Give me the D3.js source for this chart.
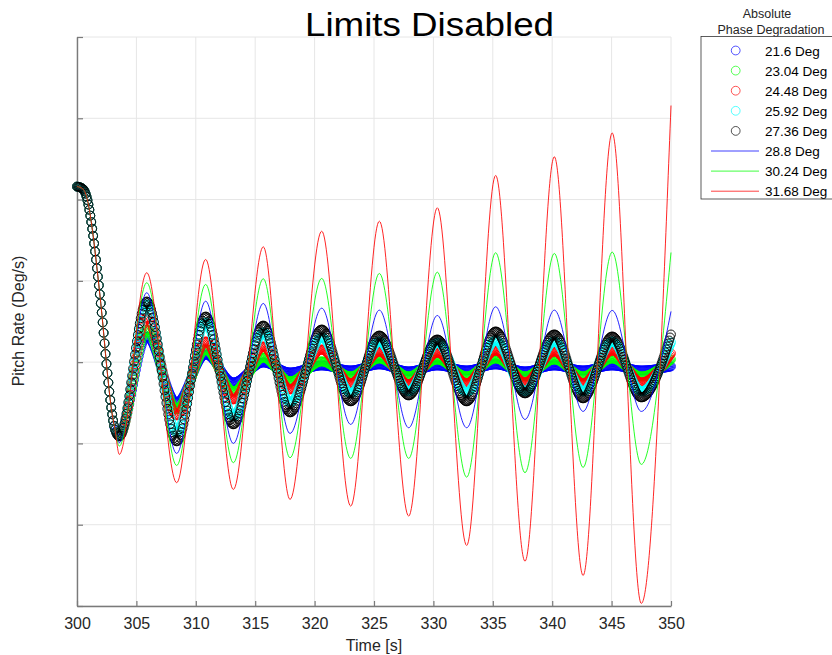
<!DOCTYPE html>
<html><head><meta charset="utf-8">
<script src="https://cdn.jsdelivr.net/npm/d3@7"></script>
<style>
body{margin:0;background:#fff}
svg{display:block}
text{font-family:Arial,"Liberation Sans",Helvetica,sans-serif}
</style>
</head><body>
<svg id="chart" width="832" height="655"></svg>
<script>
// ---------------- data ----------------
const legendLabels = ["21.6 Deg","23.04 Deg","24.48 Deg","25.92 Deg","27.36 Deg","28.8 Deg","30.24 Deg","31.68 Deg"];
const seriesColors = ["#0000ff","#00ff00","#ff0000","#00ffff","#000000","#0000ff","#00ff00","#ff0000"];
const seriesKind   = ["circle","circle","circle","circle","circle","line","line","line"];
const xTicks = [300,305,310,315,320,325,330,335,340,345,350];
const yTicks = [-3,-2,-1,0,1,2,3,4];

// common initial transient (identical for every run)
const transientTime  = [300.0, 300.5, 300.9, 301.3, 301.7, 302.1, 302.5, 302.9, 303.2];
const transientValue = [2.16, 2.13, 1.98, 1.62, 1.13, 0.58, -0.05, -0.58, -0.83];

// times of successive troughs / peaks after the transient
const extremaTime = [303.56,305.87,308.39,310.83,313.16,315.68,317.93,320.60,323.04,325.45,
                     327.92,330.33,332.80,335.24,337.71,340.18,342.60,345.05,347.50,350.00];

const deg216  = [-0.877,0.316,-0.496,0.095,-0.250,-0.004,-0.127,-0.041,-0.102,-0.028,-0.114,-0.041,-0.102,-0.028,-0.114,-0.041,-0.102,-0.041,-0.102,-0.053];
const deg2304 = [-0.902,0.402,-0.582,0.156,-0.360,0.058,-0.237,0.009,-0.176,0.046,-0.176,0.033,-0.176,0.046,-0.176,0.033,-0.176,0.046,-0.176,0.033];
const deg2448 = [-0.914,0.550,-0.656,0.255,-0.459,0.193,-0.336,0.156,-0.262,0.132,-0.274,0.119,-0.262,0.144,-0.250,0.132,-0.262,0.144,-0.250,0.107];
const deg2592 = [-0.914,0.710,-0.865,0.488,-0.668,0.365,-0.496,0.304,-0.385,0.255,-0.360,0.242,-0.373,0.267,-0.360,0.255,-0.360,0.255,-0.360,0.242];
const deg2736 = [-0.914,0.747,-0.975,0.562,-0.766,0.451,-0.619,0.402,-0.483,0.328,-0.410,0.279,-0.483,0.378,-0.385,0.341,-0.446,0.316,-0.434,0.341];
const deg288  = [-0.991,0.854,-1.123,0.750,-1.000,0.722,-0.877,0.664,-0.766,0.640,-0.807,0.574,-0.807,0.681,-0.705,0.640,-0.606,0.636,-0.606,0.624];
const deg3024 = [-1.033,0.977,-1.271,0.956,-1.237,1.026,-1.176,1.030,-1.184,1.091,-1.184,1.107,-1.415,1.346,-1.360,1.337,-1.295,1.354,-1.258,1.349];
const deg3168 = [-1.135,1.100,-1.483,1.263,-1.566,1.419,-1.689,1.611,-1.771,1.734,-1.894,1.899,-2.255,2.296,-2.448,2.526,-2.624,2.819,-2.968,3.157];
const seriesValues = [deg216,deg2304,deg2448,deg2592,deg2736,deg288,deg3024,deg3168];

const markerStep = 0.08; // simulation output interval [s] used for circle markers

// ---------------- layout ----------------
const svg = d3.select("#chart");
const x = d3.scaleLinear().domain([300,350]).range([77,671]);
const y = d3.scaleLinear().domain([-3,4]).range([606,37]);

// grid
const grid = svg.append("g");
grid.selectAll("line.v").data(xTicks).join("line")
  .attr("x1",d=>x(d)).attr("x2",d=>x(d)).attr("y1",y(-3)).attr("y2",y(4))
  .attr("stroke","#e6e6e6").attr("stroke-width",1);
grid.selectAll("line.h").data(yTicks).join("line")
  .attr("y1",d=>y(d)).attr("y2",d=>y(d)).attr("x1",x(300)).attr("x2",x(350))
  .attr("stroke","#e6e6e6").attr("stroke-width",1);

// axes
const axCol = "#7a7a7a";
const gx = svg.append("g").attr("transform",`translate(0,${y(-3)})`)
  .call(d3.axisBottom(x).tickValues(xTicks).tickFormat(d3.format("d")).tickSizeInner(-5).tickSizeOuter(0).tickPadding(12));
const gy = svg.append("g").attr("transform",`translate(${x(300)},0)`)
  .call(d3.axisLeft(y).tickValues(yTicks).tickFormat("").tickSizeInner(-6).tickSizeOuter(0));
[gx,gy].forEach(g=>{
  g.select(".domain").attr("stroke",axCol).attr("stroke-width",1.4);
  g.selectAll(".tick line").attr("stroke",axCol).attr("stroke-width",1.2);
});
gx.selectAll(".tick text").attr("font-size",16).attr("fill","#262626")
  .attr("font-family","Arial, 'Liberation Sans', sans-serif");

// series
const tmp = svg.append("g").attr("visibility","hidden");
const line = d3.line().x(d=>x(d[0])).y(d=>y(d[1])).curve(d3.curveMonotoneX);
function seriesPoints(vals){
  const pts = transientTime.map((t,i)=>[t,transientValue[i]]);
  extremaTime.forEach((t,i)=>pts.push([t,vals[i]]));
  return pts;
}
function markersOnPath(d){
  const node = tmp.append("path").attr("d",d).node();
  const L = node.getTotalLength();
  const pts = [];
  for(let l=0;l<=L;l+=0.6) pts.push(node.getPointAtLength(l));
  pts.push(node.getPointAtLength(L));
  const out=[]; let j=0;
  const n = Math.round((350-300)/markerStep);
  for(let k=0;k<=n;k++){
    const px = x(300+k*markerStep);
    while(j<pts.length-2 && pts[j+1].x<px) j++;
    const a=pts[j], b=pts[j+1];
    let f = b.x===a.x?0:(px-a.x)/(b.x-a.x); f=Math.max(0,Math.min(1,f));
    out.push([px, a.y+(b.y-a.y)*f]);
  }
  node.remove();
  return out;
}
const plot = svg.append("g");
seriesValues.forEach((vals,i)=>{
  const d = line(seriesPoints(vals));
  if(seriesKind[i]==="circle"){
    const m = markersOnPath(d);
    plot.append("g").selectAll("circle").data(m).join("circle")
      .attr("cx",p=>p[0]).attr("cy",p=>p[1]).attr("r",4.4)
      .attr("fill","none").attr("stroke",seriesColors[i]).attr("stroke-width",0.9);
  }
});
seriesValues.forEach((vals,i)=>{
  if(seriesKind[i]==="line"){
    plot.append("path").attr("d",line(seriesPoints(vals)))
      .attr("fill","none").attr("stroke",seriesColors[i]).attr("stroke-width",1).attr("stroke-opacity",0.85);
  }
});

// titles
svg.append("text").attr("x",429.5).attr("y",36).attr("text-anchor","middle")
  .attr("font-size",34).attr("textLength",249).attr("lengthAdjust","spacingAndGlyphs")
  .attr("fill","#000").text("Limits Disabled");
svg.append("text").attr("x",374).attr("y",651).attr("text-anchor","middle")
  .attr("font-size",16).attr("fill","#262626").text("Time [s]");
svg.append("text").attr("transform","translate(24,321) rotate(-90)").attr("text-anchor","middle")
  .attr("font-size",16).attr("fill","#262626").text("Pitch Rate (Deg/s)");

// legend
const lg = svg.append("g");
lg.append("text").attr("x",767).attr("y",17.5).attr("text-anchor","middle").attr("font-size",12.5).attr("fill","#262626").text("Absolute");
lg.append("text").attr("x",771).attr("y",33.5).attr("text-anchor","middle").attr("font-size",12.5).attr("fill","#262626").text("Phase Degradation");
lg.append("rect").attr("x",701).attr("y",36.5).attr("width",140).attr("height",162.5)
  .attr("fill","#fff").attr("stroke","#333").attr("stroke-width",0.8);
legendLabels.forEach((lab,i)=>{
  const cy = 50.5 + i*20.1;
  if(seriesKind[i]==="circle"){
    lg.append("circle").attr("cx",735.7).attr("cy",cy).attr("r",4.4).attr("fill","none")
      .attr("stroke",seriesColors[i]).attr("stroke-width",0.9).attr("stroke-opacity",0.75);
  } else {
    lg.append("line").attr("x1",711).attr("x2",759).attr("y1",cy).attr("y2",cy)
      .attr("stroke",seriesColors[i]).attr("stroke-width",1).attr("stroke-opacity",0.75);
  }
  lg.append("text").attr("x",765).attr("y",cy+5).attr("font-size",13.5).attr("fill","#000").text(lab);
});
</script>
</body></html>
